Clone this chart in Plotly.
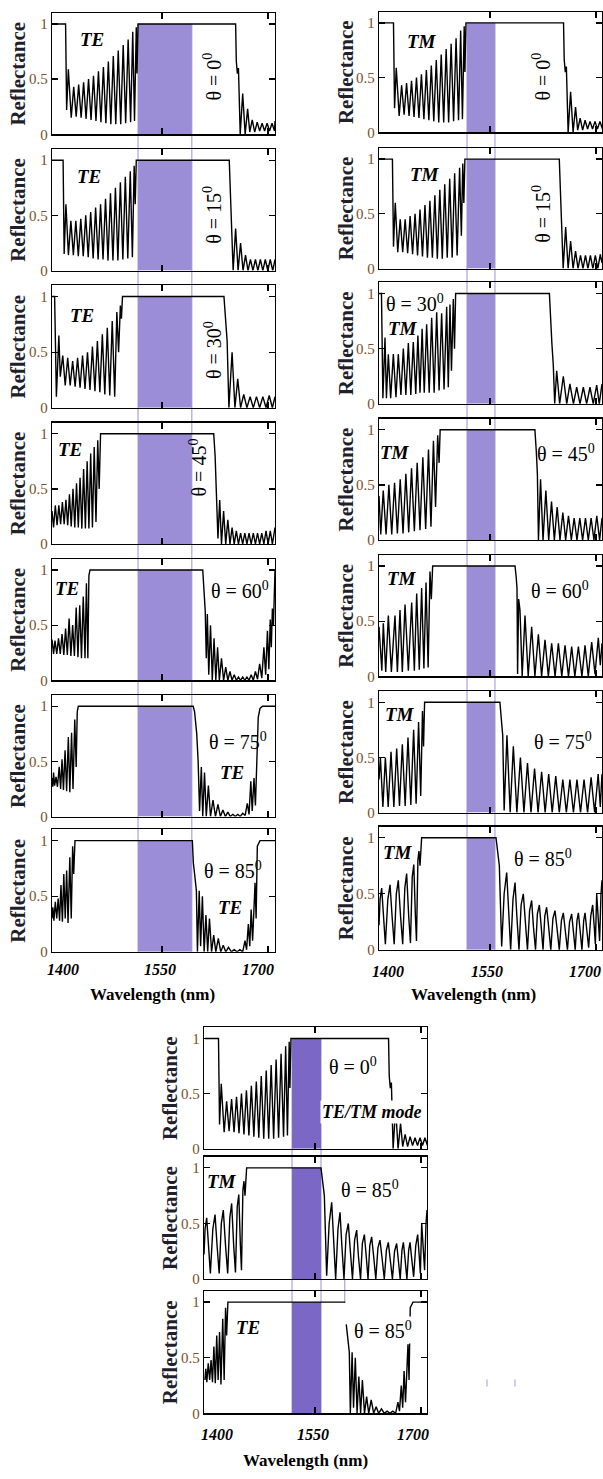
import plotly.graph_objects as go

# ---------------- data ----------------
# reflectance curves as (wavelength nm, reflectance)
R_00 = [(1394.3,1.0),(1413.5,1.0),(1415.0,0.22),(1417.4,0.59),(1421.5,0.15),(1425.0,0.43),(1428.5,0.16),(1432.0,0.45),
        (1435.5,0.15),(1439.0,0.47),(1442.5,0.14),(1446.0,0.50),(1449.5,0.13),(1453.0,0.53),(1456.5,0.12),(1460.0,0.57),
        (1463.5,0.11),(1467.0,0.61),(1470.5,0.10),(1474.0,0.66),(1477.5,0.09),(1481.0,0.71),(1484.5,0.09),(1488.0,0.76),
        (1491.5,0.09),(1495.0,0.81),(1498.5,0.10),(1502.0,0.86),(1505.5,0.11),(1508.5,0.93),(1511.0,0.12),(1513.5,0.97),
        (1514.5,0.55),(1516.0,1.0),(1654.0,1.0),(1655.0,0.66),(1656.5,0.55),(1658.0,0.6),(1660.5,0.0),(1664.0,0.37),
        (1667.5,0.0),(1671.0,0.23),(1674.0,0.02),(1677.5,0.13),(1681.0,0.02),(1684.5,0.11),(1688.0,0.03),(1691.5,0.10),
        (1695.0,0.03),(1698.5,0.10),(1702.0,0.03),(1705.5,0.10),(1709.0,0.03),(1709.7,0.12)]

TE_15 = [(1394.3,1.0),(1410.0,1.0),(1411.5,0.15),(1414.0,0.6),(1417.5,0.14),(1421.0,0.45),(1424.5,0.14),(1428.0,0.45),
         (1431.5,0.13),(1435.0,0.47),(1438.5,0.13),(1442.0,0.50),(1445.5,0.12),(1449.0,0.53),(1452.5,0.11),(1456.0,0.57),
         (1459.5,0.10),(1463.0,0.60),(1466.5,0.10),(1470.0,0.65),(1473.5,0.09),(1477.0,0.70),(1480.5,0.09),(1484.0,0.75),
         (1487.5,0.09),(1491.0,0.80),(1494.5,0.10),(1498.0,0.85),(1501.5,0.11),(1505.0,0.90),(1508.0,0.12),(1510.5,0.95),
         (1512.0,0.6),(1513.5,1.0),(1645.0,1.0),(1646.5,0.7),(1648.0,0.55),(1650.5,0.0),(1654.0,0.38),(1657.5,0.0),
         (1661.0,0.25),(1664.5,0.0),(1668.0,0.14),(1671.5,0.0),(1675.0,0.10),(1678.5,0.0),(1682.0,0.10),(1685.5,0.0),
         (1689.0,0.10),(1692.5,0.0),(1696.0,0.10),(1699.5,0.0),(1703.0,0.10),(1706.5,0.0),(1709.7,0.10)]

TE_30 = [(1394.3,1.0),(1398.0,1.0),(1400.5,0.1),(1404.0,0.65),(1406.0,0.28),(1409.5,0.47),(1413.0,0.2),(1416.5,0.45),
         (1420.0,0.2),(1423.5,0.42),(1427.0,0.19),(1430.5,0.45),(1434.0,0.18),(1437.5,0.47),(1441.0,0.17),(1444.5,0.5),
         (1448.0,0.16),(1451.5,0.55),(1455.0,0.15),(1458.5,0.6),(1462.0,0.14),(1465.5,0.66),(1469.0,0.12),(1472.5,0.72),
         (1476.0,0.11),(1479.5,0.78),(1483.0,0.10),(1486.0,0.86),(1488.5,0.5),(1491.0,0.92),(1492.5,0.8),(1494.0,1.0),
         (1637.5,1.0),(1640.5,0.75),(1642.0,0.6),(1644.5,0.0),(1649.0,0.5),(1653.0,0.0),(1657.0,0.26),(1661.0,0.0),
         (1665.5,0.12),(1670.0,0.0),(1674.5,0.10),(1679.0,0.0),(1683.5,0.10),(1688.0,0.0),(1692.5,0.10),(1697.0,0.0),
         (1701.5,0.11),(1706.0,0.0),(1709.7,0.10)]

TE_45 = [(1394.3,0.3),(1396.5,0.15),(1399.0,0.35),(1401.5,0.17),(1404.0,0.35),(1406.5,0.18),(1409.0,0.38),(1411.5,0.18),
         (1414.0,0.40),(1416.5,0.17),(1419.0,0.45),(1421.5,0.16),(1424.0,0.50),(1426.5,0.15),(1429.0,0.55),(1431.5,0.15),
         (1434.0,0.60),(1436.5,0.14),(1439.0,0.68),(1441.5,0.14),(1444.0,0.75),(1446.5,0.14),(1449.0,0.82),(1451.5,0.15),
         (1454.0,0.88),(1456.5,0.2),(1459.0,0.94),(1461.0,0.5),(1463.0,1.0),(1623.0,1.0),(1625.0,0.8),(1627.0,0.45),
         (1629.0,0.05),(1631.5,0.4),(1634.0,0.0),(1637.0,0.3),(1640.0,0.0),(1643.0,0.22),(1646.0,0.0),(1649.0,0.15),
         (1652.0,0.0),(1655.0,0.12),(1658.0,0.0),(1661.0,0.10),(1664.0,0.0),(1667.0,0.10),(1670.0,0.0),(1673.0,0.10),
         (1676.0,0.0),(1679.0,0.10),(1682.0,0.0),(1685.0,0.10),(1688.0,0.0),(1691.0,0.10),(1694.0,0.0),(1697.0,0.12),
         (1700.0,0.0),(1703.0,0.12),(1706.0,0.0),(1709.7,0.15)]

TE_60 = [(1394.3,0.37),(1396.5,0.24),(1398.5,0.36),(1401.0,0.24),(1403.5,0.38),(1406.0,0.24),(1408.5,0.42),(1411.0,0.23),
         (1413.5,0.47),(1416.0,0.23),(1418.5,0.56),(1421.0,0.22),(1423.5,0.5),(1426.0,0.22),(1428.5,0.66),(1431.0,0.21),
         (1433.5,0.68),(1436.0,0.2),(1438.5,0.76),(1441.0,0.2),(1443.0,0.88),(1445.0,0.2),(1446.5,0.95),(1448.0,1.0),
         (1607.5,1.0),(1609.5,0.7),(1611.0,0.63),(1612.5,0.2),(1614.0,0.6),(1616.0,0.05),(1618.5,0.5),(1621.0,0.0),
         (1623.5,0.38),(1626.0,0.0),(1628.5,0.3),(1631.0,0.0),(1634.0,0.2),(1637.0,0.0),(1640.0,0.12),(1643.0,0.0),
         (1646.0,0.08),(1649.0,0.0),(1652.0,0.05),(1655.0,0.0),(1658.0,0.03),(1661.0,0.0),(1664.0,0.03),(1667.0,0.0),
         (1670.0,0.03),(1673.0,0.0),(1676.0,0.05),(1679.0,0.0),(1682.0,0.08),(1685.0,0.01),(1688.0,0.15),(1691.0,0.02),
         (1694.0,0.3),(1696.5,0.05),(1699.0,0.45),(1701.0,0.1),(1703.0,0.55),(1704.5,0.3),(1706.0,0.65),(1707.5,0.5),
         (1709.0,0.9),(1709.7,1.0)]

TE_75 = [(1394.3,0.35),(1395.5,0.27),(1396.5,0.4),(1398.0,0.28),(1400.0,0.36),(1402.0,0.27),(1404.5,0.45),(1406.5,0.25),
         (1408.5,0.52),(1410.5,0.24),(1412.8,0.6),(1415.0,0.23),(1417.4,0.72),(1419.5,0.22),(1422.0,0.76),(1424.0,0.25),
         (1426.5,0.88),(1428.5,0.45),(1430.0,0.95),(1431.5,1.0),(1594.0,1.0),(1596.0,0.95),(1599.0,0.75),(1601.0,0.5),
         (1603.0,0.05),(1605.5,0.45),(1607.5,0.0),(1610.0,0.4),(1612.5,0.0),(1615.5,0.28),(1618.5,0.0),(1622.0,0.15),
         (1625.5,0.0),(1629.0,0.11),(1632.5,0.0),(1636.0,0.06),(1639.5,0.0),(1643.0,0.04),(1646.5,0.0),(1650.0,0.02),
         (1653.5,0.0),(1657.0,0.02),(1660.5,0.0),(1664.0,0.03),(1667.5,0.01),(1670.5,0.12),(1673.0,0.02),(1675.5,0.32),
         (1677.5,0.05),(1680.0,0.35),(1682.0,0.1),(1683.8,0.58),(1686.0,0.9),(1688.5,0.98),(1692.0,1.0),(1709.7,1.0)]

TE_85 = [(1394.3,0.3),(1395.5,0.4),(1397.0,0.28),(1399.0,0.45),(1401.0,0.3),(1403.0,0.48),(1405.0,0.28),(1407.0,0.6),
         (1409.0,0.27),(1411.0,0.7),(1413.0,0.3),(1415.0,0.73),(1417.0,0.26),(1419.5,0.85),(1421.5,0.3),(1423.5,0.95),
         (1425.0,0.7),(1426.8,1.0),(1592.8,1.0),(1594.2,0.8),(1596.0,0.7),(1598.5,0.55),(1600.0,0.0),(1602.5,0.55),
         (1604.5,0.05),(1607.0,0.5),(1609.5,0.0),(1612.0,0.33),(1614.5,0.0),(1617.0,0.3),(1620.0,0.0),(1623.0,0.15),
         (1626.0,0.0),(1629.5,0.12),(1633.0,0.0),(1636.5,0.06),(1640.0,0.0),(1644.0,0.04),(1648.0,0.0),(1652.0,0.02),
         (1656.0,0.0),(1660.0,0.02),(1664.0,0.0),(1667.3,0.1),(1669.5,0.02),(1672.0,0.25),(1674.0,0.05),(1676.0,0.38),
         (1678.0,0.1),(1681.5,0.62),(1683.0,0.3),(1684.7,0.95),(1688.5,1.0),(1709.7,1.0)]

TM_15 = [(1393.0,1.0),(1412.0,1.0),(1413.5,0.2),(1416.0,0.6),(1419.5,0.15),(1423.0,0.45),(1426.5,0.15),(1430.0,0.45),
         (1433.5,0.14),(1437.0,0.48),(1440.5,0.13),(1444.0,0.50),(1447.5,0.12),(1451.0,0.54),(1454.5,0.11),(1458.0,0.58),
         (1461.5,0.10),(1465.0,0.62),(1468.5,0.10),(1472.0,0.67),(1475.5,0.09),(1479.0,0.72),(1482.5,0.09),(1486.0,0.77),
         (1489.5,0.10),(1493.0,0.82),(1496.5,0.10),(1500.0,0.87),(1503.5,0.12),(1507.0,0.92),(1509.5,0.3),(1511.5,0.96),
         (1513.0,0.6),(1514.5,1.0),(1648.0,1.0),(1649.5,0.7),(1651.0,0.55),(1653.5,0.0),(1657.0,0.38),(1660.5,0.0),
         (1664.0,0.25),(1667.5,0.0),(1671.0,0.16),(1674.5,0.0),(1678.0,0.12),(1681.5,0.0),(1685.0,0.12),(1688.5,0.0),
         (1692.0,0.12),(1695.5,0.0),(1699.0,0.12),(1702.5,0.0),(1706.0,0.13),(1708.4,0.05)]

TM_30 = [(1393.0,1.0),(1396.5,1.0),(1398.5,0.05),(1401.5,0.6),(1403.5,0.05),(1406.2,0.45),(1409.5,0.05),(1413.3,0.45),
         (1417.0,0.06),(1420.3,0.45),(1424.0,0.08),(1427.4,0.5),(1431.0,0.08),(1434.5,0.55),(1438.0,0.08),(1441.5,0.56),
         (1445.0,0.09),(1448.0,0.62),(1451.0,0.1),(1454.0,0.68),(1457.0,0.1),(1460.4,0.72),(1464.0,0.1),(1467.5,0.78),
         (1471.0,0.1),(1474.6,0.83),(1478.0,0.12),(1481.6,0.82),(1485.0,0.13),(1488.7,0.88),(1491.0,0.15),(1493.4,0.9),
         (1495.5,0.3),(1498.1,0.95),(1499.8,0.5),(1501.4,1.0),(1634.0,1.0),(1635.8,0.7),(1637.5,0.55),(1639.5,0.35),
         (1641.5,0.0),(1644.3,0.3),(1648.5,0.0),(1653.7,0.25),(1658.5,0.0),(1663.0,0.18),(1668.0,0.0),(1672.6,0.15),
         (1677.3,0.0),(1682.0,0.15),(1686.7,0.0),(1691.4,0.15),(1696.0,0.0),(1700.9,0.17),(1704.5,0.0),(1708.4,0.18)]

TM_45 = [(1393.0,0.4),(1395.5,0.05),(1399.0,0.45),(1403.0,0.05),(1407.0,0.5),(1411.0,0.05),(1415.0,0.52),(1419.0,0.06),
         (1423.0,0.55),(1427.0,0.06),(1431.0,0.6),(1435.0,0.07),(1439.0,0.65),(1443.0,0.08),(1447.0,0.7),(1451.0,0.09),
         (1455.0,0.75),(1459.0,0.1),(1463.0,0.82),(1466.5,0.12),(1470.0,0.9),(1473.0,0.3),(1476.0,0.95),(1478.0,0.7),
         (1479.5,1.0),(1613.5,1.0),(1615.5,0.8),(1617.0,0.6),(1618.5,0.0),(1621.5,0.55),(1625.0,0.0),(1629.0,0.45),
         (1633.0,0.0),(1637.0,0.35),(1641.0,0.0),(1645.0,0.3),(1649.0,0.0),(1653.0,0.25),(1657.0,0.0),(1661.0,0.22),
         (1665.0,0.0),(1669.0,0.2),(1673.0,0.0),(1677.0,0.2),(1681.0,0.0),(1685.0,0.2),(1689.0,0.0),(1693.0,0.2),
         (1697.0,0.0),(1701.0,0.22),(1705.0,0.0),(1708.4,0.2)]

TM_60 = [(1393.0,0.45),(1395.0,0.2),(1397.0,0.05),(1399.1,0.48),(1402.5,0.04),(1406.2,0.55),(1410.5,0.04),(1415.6,0.55),
         (1419.0,0.04),(1422.7,0.6),(1426.0,0.04),(1429.8,0.65),(1434.5,0.05),(1439.2,0.67),(1443.0,0.05),(1446.3,0.75),
         (1450.0,0.06),(1453.3,0.8),(1456.5,0.07),(1459.5,0.85),(1462.5,0.08),(1465.1,0.95),(1467.0,0.7),(1468.9,1.0),
         (1585.4,1.0),(1587.0,0.9),(1588.2,0.8),(1589.0,0.02),(1590.5,0.7),(1592.4,0.6),(1595.5,0.0),(1599.5,0.55),
         (1604.0,0.0),(1608.9,0.45),(1613.5,0.0),(1618.4,0.38),(1623.0,0.0),(1627.8,0.33),(1632.5,0.0),(1637.2,0.3),
         (1642.0,0.0),(1646.7,0.3),(1651.5,0.0),(1656.1,0.28),(1661.0,0.0),(1665.5,0.27),(1670.0,0.0),(1675.0,0.27),
         (1680.0,0.0),(1684.4,0.28),(1689.0,0.0),(1693.8,0.31),(1698.5,0.02),(1703.2,0.35),(1706.0,0.1),(1708.4,0.3)]

TM_75 = [(1393.0,0.3),(1395.0,0.5),(1398.5,0.05),(1402.0,0.5),(1406.0,0.05),(1410.0,0.55),(1414.0,0.05),(1418.0,0.58),
         (1422.0,0.06),(1426.0,0.62),(1430.0,0.06),(1434.0,0.68),(1438.0,0.07),(1442.0,0.75),(1445.5,0.08),(1449.0,0.82),
         (1452.0,0.15),(1454.5,0.92),(1456.0,0.6),(1457.5,1.0),(1564.0,1.0),(1566.0,0.85),(1568.0,0.7),(1570.0,0.02),
         (1574.0,0.7),(1578.5,0.0),(1583.0,0.6),(1588.0,0.0),(1593.0,0.5),(1598.0,0.0),(1603.0,0.45),(1608.0,0.0),
         (1613.0,0.4),(1618.0,0.0),(1623.0,0.37),(1628.0,0.0),(1633.0,0.35),(1638.0,0.0),(1643.0,0.33),(1648.0,0.0),
         (1653.0,0.3),(1658.0,0.0),(1663.0,0.3),(1668.0,0.0),(1673.0,0.3),(1678.0,0.0),(1683.0,0.3),(1688.0,0.0),
         (1693.0,0.32),(1698.0,0.0),(1703.0,0.35),(1706.0,0.05),(1708.4,0.35)]

TM_85 = [(1393.0,0.22),(1394.5,0.45),(1396.8,0.55),(1399.5,0.3),(1402.0,0.05),(1405.5,0.45),(1408.6,0.58),(1411.5,0.3),
         (1414.5,0.05),(1417.5,0.5),(1420.3,0.62),(1423.5,0.3),(1426.5,0.05),(1429.5,0.55),(1432.1,0.68),(1435.0,0.3),
         (1437.5,0.06),(1440.0,0.65),(1442.2,0.76),(1444.5,0.3),(1446.0,0.08),(1448.0,0.8),(1449.5,0.88),(1451.0,0.75),
         (1452.0,0.9),(1453.3,1.0),(1558.5,1.0),(1560.4,0.9),(1563.2,0.75),(1566.5,0.03),(1570.0,0.5),(1573.6,0.69),
         (1576.5,0.3),(1579.2,0.0),(1582.5,0.45),(1585.4,0.6),(1588.0,0.3),(1591.0,0.0),(1594.0,0.4),(1597.1,0.5),
         (1600.0,0.25),(1603.0,0.0),(1606.0,0.35),(1608.9,0.44),(1611.5,0.2),(1614.4,0.0),(1617.0,0.32),(1619.8,0.4),
         (1622.5,0.2),(1625.0,0.0),(1627.5,0.3),(1630.1,0.38),(1633.0,0.2),(1636.0,0.0),(1639.0,0.28),(1641.9,0.35),
         (1645.0,0.18),(1648.0,0.0),(1651.0,0.26),(1653.7,0.33),(1656.5,0.17),(1659.5,0.0),(1662.5,0.25),(1665.5,0.32),
         (1668.0,0.16),(1670.5,0.0),(1673.0,0.26),(1675.0,0.33),(1677.5,0.17),(1680.0,0.0),(1682.5,0.26),(1684.4,0.33),
         (1687.0,0.17),(1689.5,0.02),(1692.5,0.3),(1695.2,0.4),(1697.5,0.2),(1699.0,0.05),(1700.9,0.5),(1703.0,0.25),
         (1705.0,0.08),(1707.0,0.5),(1708.4,0.62)]

# shaded band limits (nm)
band_left = [1516.0, 1592.0]
band_right = [1517.5, 1557.0]
band_bottom = [1517.5, 1558.5]
extra_line_bottom = 1592.0

x_tick_vals = [1550, 1700]
x_tick_labels = ["1400", "1550", "1700"]
y_tick_vals = [0, 0.5, 1]
y_tick_labels = ["0", "0.5", "1"]

# ---------------- layout ----------------
W, H = 603, 1479
SERIF = "Liberation Serif, Times New Roman, serif"
FILL_LR = "#9b8ed6"
FILL_B = "#7b68c6"
EDGE = "#b3a9e6"
TICKCOL = "#7b4f2a"
LABCOL = "#1f1f2e"

LX, RX, BX = (52, 275), (379, 602), (204, 427)
LRANGE, RRANGE = (1394.3, 1709.7), (1393.0, 1708.4)

panels = [
    # (curve, xpix, xrange, top px, y0 px, band, fill, gap)
    (R_00, LX, LRANGE, 13, 135, band_left, FILL_LR, None),
    (TE_15, LX, LRANGE, 150, 272, band_left, FILL_LR, None),
    (TE_30, LX, LRANGE, 287, 410, band_left, FILL_LR, None),
    (TE_45, LX, LRANGE, 425, 547, band_left, FILL_LR, None),
    (TE_60, LX, LRANGE, 562, 684, band_left, FILL_LR, None),
    (TE_75, LX, LRANGE, 699, 821, band_left, FILL_LR, None),
    (TE_85, LX, LRANGE, 834, 957, band_left, FILL_LR, None),
    (R_00, RX, RRANGE, 12, 133, band_right, FILL_LR, None),
    (TM_15, RX, RRANGE, 149, 270, band_right, FILL_LR, None),
    (TM_30, RX, RRANGE, 284, 406, band_right, FILL_LR, None),
    (TM_45, RX, RRANGE, 421, 543, band_right, FILL_LR, None),
    (TM_60, RX, RRANGE, 558, 680, band_right, FILL_LR, None),
    (TM_75, RX, RRANGE, 695, 817, band_right, FILL_LR, None),
    (TM_85, RX, RRANGE, 831, 955, band_right, FILL_LR, None),
    (R_00, BX, RRANGE, 1033, 1155, band_bottom, FILL_B, None),
    (TM_85, BX, RRANGE, 1163, 1286, band_bottom, FILL_B, None),
    (TE_85, BX, RRANGE, 1298, 1421, band_bottom, FILL_B, 1592.8),
]

def px(x):
    return x / W

def py(y):
    return 1 - y / H

def xy(curve, gap_after=None):
    xs, ys = [], []
    for w, r in curve:
        xs.append(w)
        ys.append(r)
        if gap_after is not None and w == gap_after:
            xs.append(None)
            ys.append(None)
    return xs, ys

fig = go.Figure()
shapes = []
layout = {}
for i, (curve, xp, xr, top, y0, band, fill, gap) in enumerate(panels, start=1):
    xs, ys = xy(curve, gap)
    s = "" if i == 1 else str(i)
    fig.add_trace(go.Scatter(x=xs, y=ys, mode="lines", line=dict(color="black", width=1.4),
                             xaxis="x" + s, yaxis="y" + s, showlegend=False, hoverinfo="skip",
                             connectgaps=False))
    layout["xaxis" + s] = dict(domain=[px(xp[0]), px(xp[1])], range=list(xr), anchor="y" + s,
                               showline=True, mirror="ticks", linecolor="black", linewidth=1.3,
                               ticks="inside", ticklen=6, tickwidth=1.3, tickcolor="black",
                               tickvals=x_tick_vals, showticklabels=False, showgrid=False,
                               zeroline=False, fixedrange=True)
    layout["yaxis" + s] = dict(domain=[py(y0), py(top)], range=[0, 1.1], anchor="x" + s,
                               showline=True, mirror="ticks", linecolor="black", linewidth=1.3,
                               ticks="inside", ticklen=6, tickwidth=1.3, tickcolor="black",
                               tickvals=y_tick_vals, ticktext=y_tick_labels,
                               tickfont=dict(family=SERIF, size=15, color=TICKCOL),
                               showgrid=False, zeroline=False, fixedrange=True)
    shapes.append(dict(type="rect", xref="x" + s, yref="y" + s, x0=band[0], x1=band[1], y0=0, y1=1,
                       fillcolor=fill, line=dict(width=0), layer="below"))

# connecting band-edge lines
def vline(xref, xval, ytop, ybot):
    return dict(type="line", xref=xref, yref="paper", x0=xval, x1=xval, y0=py(ytop), y1=py(ybot),
                line=dict(color=EDGE, width=1.3), layer="below")

for b in band_left:
    shapes.append(vline("x", b, 24, 957))
for b in band_right:
    shapes.append(vline("x8", b, 23, 955))
for b in band_bottom:
    shapes.append(vline("x15", b, 1044, 1421))
shapes.append(vline("x15", extra_line_bottom, 1286, 1310))
# two tiny marks
for mx in (487, 515):
    shapes.append(dict(type="line", xref="paper", yref="paper", x0=px(mx), x1=px(mx), y0=py(1387), y1=py(1394),
                       line=dict(color=EDGE, width=1.2)))

ann = []
def txt(t, x, y, size, angle=0, bg=None, color="black"):
    d = dict(text=t, x=px(x), y=py(y), xref="paper", yref="paper", showarrow=False,
             font=dict(family=SERIF, size=size, color=color), textangle=angle,
             xanchor="center", yanchor="middle")
    if bg:
        d["bgcolor"] = bg
    ann.append(d)

def th(a):
    return "θ = %d<sup>0</sup>" % a

# Reflectance labels
for (curve, xp, xr, top, y0, band, fill, gap) in panels:
    xl = {52: 18, 379: 346, 204: 170}[xp[0]]
    txt("<b>Reflectance</b>", xl, (top + y0) / 2, 21, angle=-90, color=LABCOL)

BI = lambda t: "<b><i>%s</i></b>" % t
# left column
txt(BI("TE"), 92, 40, 19); txt(th(0), 212, 77, 20, angle=-90)
txt(BI("TE"), 89, 177, 19); txt(th(15), 212, 216, 20, angle=-90)
txt(BI("TE"), 82, 317, 19); txt(th(30), 213, 352, 20, angle=-90)
txt(BI("TE"), 70, 452, 19); txt(th(45), 198, 470, 20, angle=-90)
txt(BI("TE"), 67, 592, 19); txt(th(60), 240, 593, 20)
txt(th(75), 238, 745, 20); txt(BI("TE"), 232, 777, 19)
txt(th(85), 233, 875, 20); txt(BI("TE"), 230, 912, 19)
# right column
txt(BI("TM"), 422, 42, 19); txt(th(0), 541, 77, 20, angle=-90)
txt(BI("TM"), 425, 175, 19); txt(th(15), 541, 215, 20, angle=-90)
txt(th(30), 415, 305, 20); txt(BI("TM"), 403, 330, 19)
txt(BI("TM"), 395, 455, 19); txt(th(45), 566, 455, 20)
txt(BI("TM"), 402, 582, 19); txt(th(60), 560, 593, 20)
txt(BI("TM"), 400, 718, 19); txt(th(75), 563, 745, 20)
txt(BI("TM"), 398, 857, 19); txt(th(85), 543, 863, 20)
# bottom group
txt(th(0), 353, 1072, 20); txt(BI("TE/TM mode"), 372, 1118, 18, bg="white")
txt(BI("TM"), 222, 1188, 19); txt(th(85), 370, 1195, 20)
txt(BI("TE"), 248, 1335, 19); txt(th(85), 383, 1337, 20, bg="white")

# x tick labels and titles
for (xs3, ylab, ytit, xt) in [((63, 160, 258), 975, 1000, 152),
                              ((388, 487, 585), 977, 1000, 473),
                              ((217, 313, 413), 1442, 1468, 305)]:
    for lbl, xx in zip(x_tick_labels, xs3):
        txt(BI(lbl), xx, ylab, 16)
    txt("<b>Wavelength (nm)</b>", xt, ytit, 17)

fig.update_layout(width=W, height=H, margin=dict(l=0, r=0, t=0, b=0),
                  paper_bgcolor="white", plot_bgcolor="rgba(0,0,0,0)",
                  shapes=shapes, annotations=ann, showlegend=False, **layout)
fig.write_html("out.html", config={"displayModeBar": False, "staticPlot": True},
               post_script="document.body.style.margin='0';document.body.style.overflow='hidden';")
